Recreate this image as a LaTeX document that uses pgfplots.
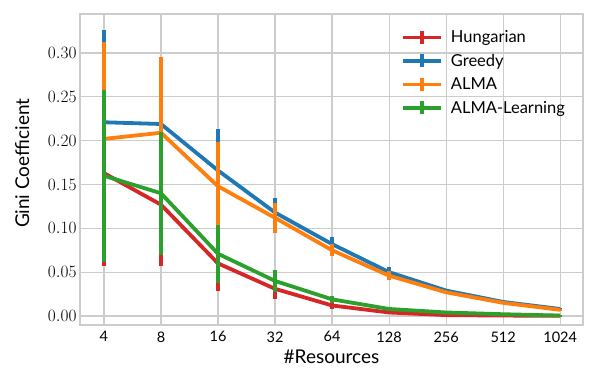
\documentclass[border=0pt]{standalone}
\usepackage{fontspec}
\setmainfont{Lato}
\usepackage{pgfplots}
\pgfplotsset{compat=1.18}

\definecolor{cred}{HTML}{D62728}
\definecolor{cblue}{HTML}{1F77B4}
\definecolor{corange}{HTML}{FF7F0E}
\definecolor{cgreen}{HTML}{2CA02C}
\definecolor{gridgray}{HTML}{CCCCCC}

\pgfplotsset{
  errleg/.style={legend image code/.code={
    \draw[#1,line width=3.8pt] (0pt,0pt) -- (38pt,0pt);
    \draw[#1,line width=3.8pt] (19pt,-6.5pt) -- (19pt,6.5pt);
    \path (44pt,0pt);}},
  errplot/.style={color=#1, line width=3.8pt, line join=round, mark=none, errleg=#1,
    error bars/.cd, y dir=both, y explicit, error mark=none,
    error bar style={line width=3.8pt, color=#1}},
}

% x = index of #resources (4,8,...,1024), y = mean, e = error
\pgfplotstableread{
x y e
0 0.163 0.106
1 0.127 0.070
2 0.060 0.032
3 0.031 0.012
4 0.012 0.004
5 0.004 0.002
6 0.001 0.001
7 0.0005 0.0005
8 0.0002 0.0002
}\hungarian
\pgfplotstableread{
x y e
0 0.221 0.105
1 0.219 0.070
2 0.166 0.047
3 0.118 0.017
4 0.082 0.008
5 0.050 0.006
6 0.029 0.002
7 0.016 0.001
8 0.008 0.001
}\greedy
\pgfplotstableread{
x y e
0 0.202 0.110
1 0.209 0.086
2 0.148 0.050
3 0.112 0.017
4 0.075 0.007
5 0.046 0.005
6 0.027 0.002
7 0.015 0.001
8 0.007 0.001
}\alma
\pgfplotstableread{
x y e
0 0.160 0.098
1 0.140 0.070
2 0.071 0.033
3 0.040 0.013
4 0.019 0.004
5 0.008 0.002
6 0.004 0.001
7 0.002 0.001
8 0.0005 0.0005
}\almalearn

\begin{document}
\begin{tikzpicture}
\begin{axis}[
    scale only axis,
    width=503pt, height=311pt,
    xmin=-0.42, xmax=8.4,
    ymin=-0.0103, ymax=0.3445,
    xtick={0,...,8},
    xticklabels={4,8,16,32,64,128,256,512,1024},
    ytick={0,0.05,...,0.31},
    yticklabel style={font=\fontsize{16}{16}\selectfont,
      /pgf/number format/fixed, /pgf/number format/fixed zerofill,
      /pgf/number format/precision=2},
    xticklabel style={font=\fontsize{14.5}{14.5}\selectfont, yshift=-3pt},
    major tick length=0pt,
    grid=major,
    grid style={gridgray, line width=1.2pt},
    axis line style={gridgray, line width=1.3pt},
    xlabel={$\#$Resources},
    ylabel={Gini Coefficient},
    label style={font=\fontsize{19}{19}\selectfont},
    xlabel style={at={(axis description cs:0.5,-0.103)}, anchor=center},
    ylabel style={at={(axis description cs:-0.115,0.52)}, anchor=center},
    legend style={at={(rel axis cs:0.632,0.96)}, anchor=north west, draw=none, fill=none,
      font=\fontsize{16.5}{16.5}\selectfont, row sep=6pt},
    legend cell align=left,
    clip=false,
]
\addplot+[errplot=cred] table[x=x,y=y,y error=e] {\hungarian};
\addlegendentry{Hungarian}
\addplot+[errplot=cblue] table[x=x,y=y,y error=e] {\greedy};
\addlegendentry{Greedy}
\addplot+[errplot=corange] table[x=x,y=y,y error=e] {\alma};
\addlegendentry{ALMA}
\addplot+[errplot=cgreen] table[x=x,y=y,y error=e] {\almalearn};
\addlegendentry{ALMA-Learning}
\path (rel axis cs:-0.159,-0.2026) rectangle (rel axis cs:1.0298,1.045);
\end{axis}
\end{tikzpicture}
\end{document}
